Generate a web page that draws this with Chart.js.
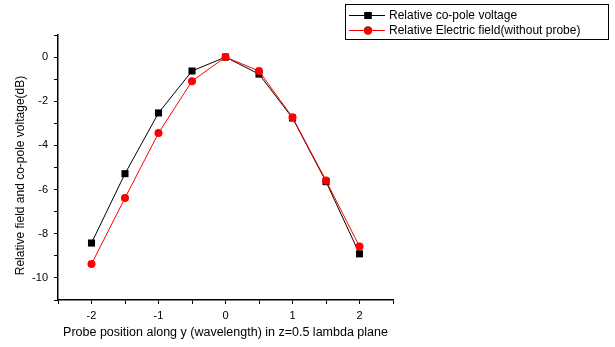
<!DOCTYPE html>
<html>
<head>
<meta charset="utf-8">
<script src="https://cdn.jsdelivr.net/npm/chart.js@4/dist/chart.umd.min.js"></script>
<style>
  html, body { margin: 0; padding: 0; background: #fff; }
  #wrap { width: 615px; height: 347px; }
</style>
</head>
<body>
<div id="wrap"><canvas id="c" width="615" height="347"></canvas></div>
<script>
// Probe positions (wavelengths)
const positions = [-2, -1.5, -1, -0.5, 0, 0.5, 1, 1.5, 2];
// Relative co-pole voltage (dB)
const coPoleVoltage = [-8.42, -5.28, -2.53, -0.63, 0, -0.77, -2.76, -5.64, -8.91];
// Relative electric field without probe (dB)
const electricField = [-9.37, -6.38, -3.44, -1.09, 0, -0.63, -2.73, -5.59, -8.58];

const seriesLabels = ['Relative co-pole voltage', 'Relative Electric field(without probe)'];
const xTitle = 'Probe position along y (wavelength) in z=0.5 lambda plane';
const yTitle = 'Relative field and co-pole voltage(dB)';

const FONT = 'Arial, "Liberation Sans", sans-serif';

function pts(ys) { return positions.map((x, i) => ({ x: x, y: ys[i] })); }

// Boxed legend in the top-right corner
const boxLegend = {
  id: 'boxLegend',
  afterDraw(chart) {
    const ctx = chart.ctx;
    const ds = chart.data.datasets;
    const bx = 345.5, by = 4.5, bw = 263, bh = 35;
    ctx.save();
    ctx.strokeStyle = '#000';
    ctx.lineWidth = 1;
    ctx.strokeRect(bx, by, bw, bh);
    ctx.font = '12px ' + FONT;
    ctx.textBaseline = 'middle';
    ctx.textAlign = 'left';
    ds.forEach((d, i) => {
      const y = 15 + i * 15;
      ctx.strokeStyle = d.borderColor;
      ctx.lineWidth = 1;
      ctx.beginPath();
      ctx.moveTo(349, y + 0.5);
      ctx.lineTo(385, y + 0.5);
      ctx.stroke();
      Chart.helpers.drawPoint(ctx, {
        pointStyle: d.pointStyle, radius: d.pointRadius, rotation: 0, borderWidth: 0
      }, 368, y + 0.5);
      ctx.fillStyle = d.pointBackgroundColor;
      ctx.fill();
      ctx.fillStyle = '#000';
      ctx.fillText(d.label, 389, y + 1);
    });
    ctx.restore();
  }
};

// Rotated y-axis title, sitting a little below the axis midpoint
const yAxisTitle = {
  id: 'yAxisTitle',
  afterDraw(chart) {
    const ctx = chart.ctx;
    const a = chart.chartArea;
    ctx.save();
    ctx.translate(20.5, (a.top + a.bottom) / 2 + 8);
    ctx.rotate(-Math.PI / 2);
    ctx.font = '12px ' + FONT;
    ctx.fillStyle = '#000';
    ctx.textAlign = 'center';
    ctx.textBaseline = 'middle';
    ctx.fillText(yTitle, 0, 0);
    ctx.restore();
  }
};

new Chart(document.getElementById('c'), {
  type: 'line',
  data: {
    datasets: [
      {
        label: seriesLabels[0],
        data: pts(coPoleVoltage),
        borderColor: '#000000',
        backgroundColor: '#000000',
        pointBackgroundColor: '#000000',
        pointBorderColor: '#000000',
        pointStyle: 'rect',
        pointRadius: 5,
        pointBorderWidth: 0,
        borderWidth: 1,
        order: 1
      },
      {
        label: seriesLabels[1],
        data: pts(electricField),
        borderColor: '#ff0000',
        backgroundColor: '#ff0000',
        pointBackgroundColor: '#ff0000',
        pointBorderColor: '#ff0000',
        pointStyle: 'circle',
        pointRadius: 4,
        pointBorderWidth: 0,
        borderWidth: 1,
        order: 0
      }
    ]
  },
  options: {
    responsive: false,
    animation: false,
    devicePixelRatio: 1,
    layout: { padding: { left: 0, top: 35, right: 222, bottom: 0 } },
    plugins: { legend: { display: false }, tooltip: { enabled: false } },
    scales: {
      x: {
        type: 'linear',
        min: -2.5, max: 2.5,
        afterFit(s) { s.height = 47; },
        border: { color: '#000', width: 1.5 },
        grid: { display: true, drawOnChartArea: false, drawTicks: true, tickLength: 4, color: '#000', lineWidth: 1 },
        ticks: {
          stepSize: 0.5, autoSkip: false, maxRotation: 0, padding: 5,
          color: '#000', font: { family: FONT, size: 11 },
          callback: v => (Number.isInteger(v) ? String(v) : '')
        },
        title: { display: true, text: xTitle, color: '#000', font: { family: FONT, size: 12.5 }, padding: { top: 4, bottom: 7 } }
      },
      y: {
        type: 'linear',
        min: -11, max: 1,
        afterFit(s) { s.width = 58; },
        border: { color: '#000', width: 1.5 },
        grid: { display: true, drawOnChartArea: false, drawTicks: true, tickLength: 4, color: '#000', lineWidth: 1 },
        ticks: {
          stepSize: 1, autoSkip: false, padding: 6,
          color: '#000', font: { family: FONT, size: 11 },
          callback: v => (v % 2 === 0 ? String(v) : '')
        },
        title: { display: false }
      }
    }
  },
  plugins: [boxLegend, yAxisTitle]
});
</script>
</body>
</html>
